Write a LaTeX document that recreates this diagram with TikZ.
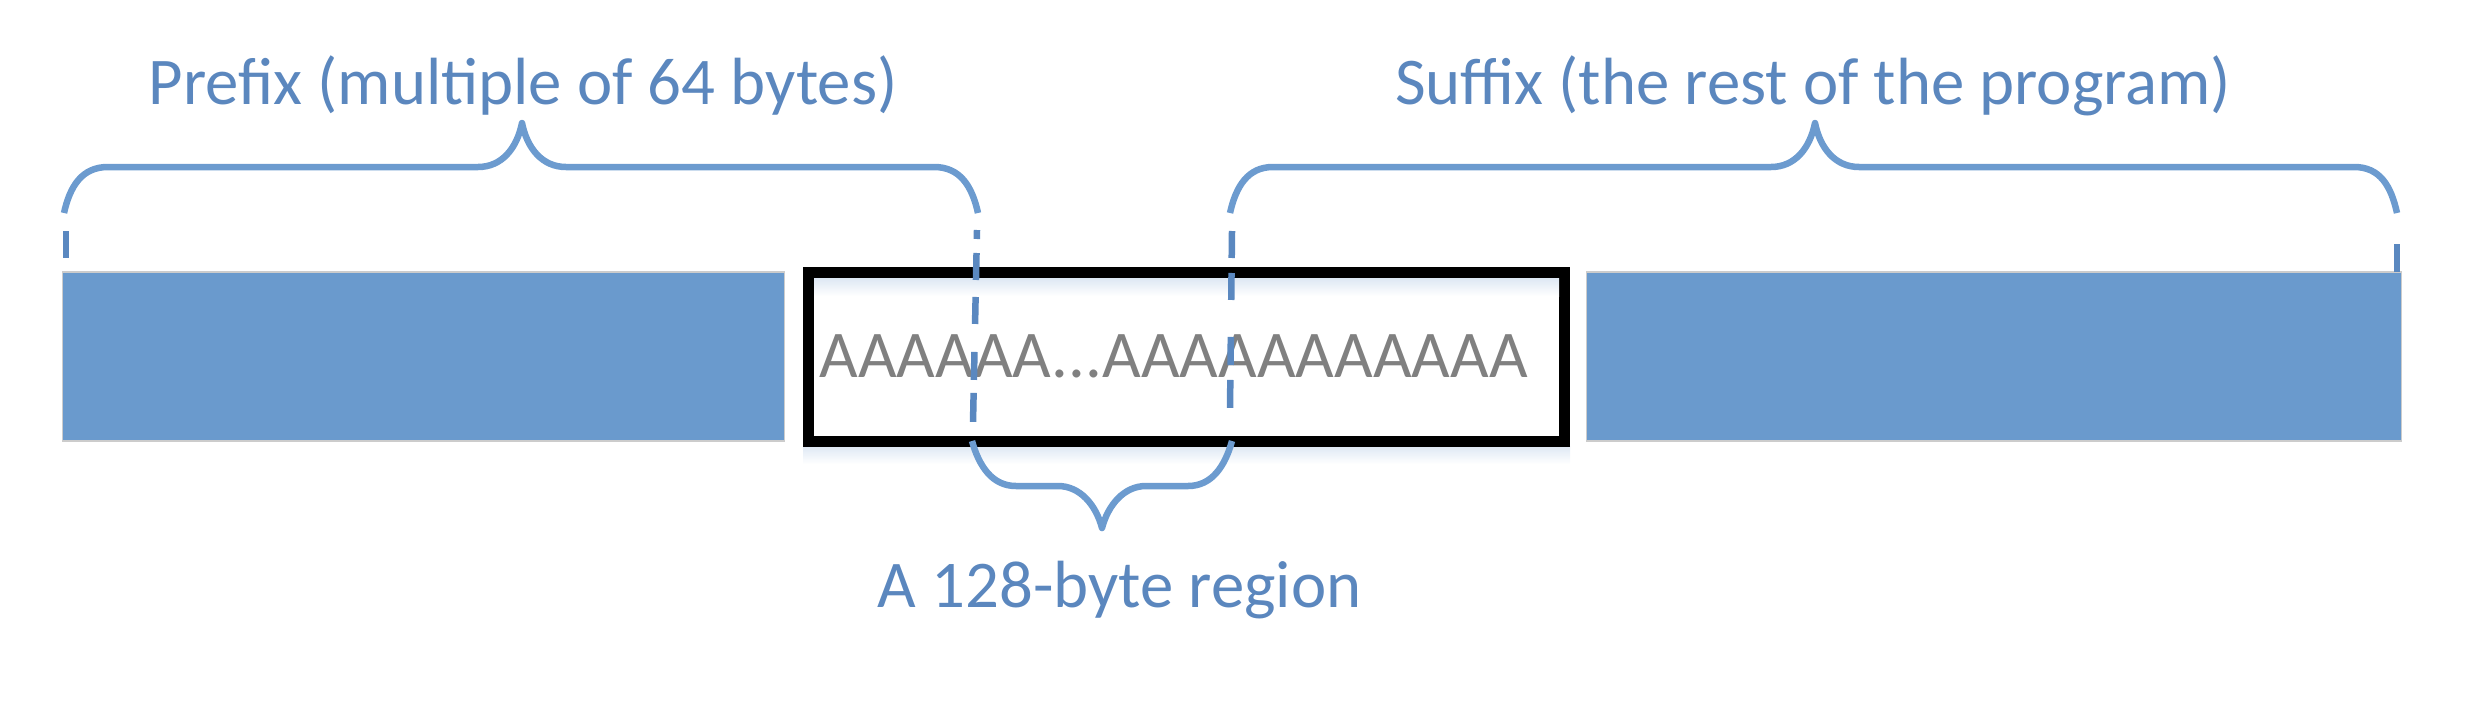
\documentclass[tikz,border=0pt]{standalone}
\usepackage{fontspec}
\setmainfont{Carlito}
\definecolor{barblue}{RGB}{106,154,205}
\definecolor{braceblue}{RGB}{108,155,207}
\definecolor{dashblue}{RGB}{90,136,192}
\definecolor{textblue}{RGB}{91,135,190}
\definecolor{agray}{RGB}{128,128,128}
\definecolor{shadeblue}{RGB}{222,232,244}
\begin{document}
\begin{tikzpicture}[x=0.02cm,y=-0.02cm,
  barbox/.style={draw=black!20, line width=0.6pt, fill=barblue, inner sep=0pt, minimum height=3.38cm},
  framebox/.style={draw=black, fill=white, line width=0.22cm, inner sep=0pt, minimum width=15.12cm, minimum height=3.38cm},
  lbl/.style={text=textblue, font=\fontsize{38pt}{45pt}\selectfont, inner sep=0pt},
  atext/.style={text=agray, font=\fontsize{38pt}{45pt}\selectfont, inner sep=0pt},
  brace/.style={draw=braceblue, line width=0.13cm, line join=round},
  vdash/.style={draw=dashblue, line width=0.13cm}
]
\useasboundingbox (0,0) rectangle (2470,700);
% soft shadow under the frame
\shade[top color=shadeblue, bottom color=white] (803,446) rectangle (1570,464);
% bars and frame
\node[barbox, minimum width=14.46cm] (leftbar) at (423.5,356.5) {};
\node[barbox, minimum width=16.32cm] (rightbar) at (1994,356.5) {};
\node[framebox] (frame) at (1186.5,357) {};
\shade[top color=shadeblue, bottom color=white] (814,278.5) rectangle (1559,296);
\node[atext, anchor=base] (fill) at (1173.5,377) {AAAAAA...AAAAAAAAAAA};
% labels
\node[lbl, anchor=base] (prefix) at (523,104) {Prefix (multiple of 64 bytes)};
\node[lbl, anchor=base] (suffix) at (1813,104) {Suffix (the rest of the program)};
\node[lbl, anchor=base] (region) at (1119.5,607) {A 128-byte region};
% brace end coordinates
\coordinate (pl) at (64,213);
\coordinate (pr) at (978,213);
\coordinate (ptip) at (522,123);
\coordinate (sl) at (1230,213);
\coordinate (sr) at (2397,213);
\coordinate (stip) at (1815,123);
\coordinate (rl) at (972,441);
\coordinate (rr) at (1232,441);
\coordinate (rtip) at (1102,528);
% dashed guide lines
\coordinate (d1a) at (66,231);
\coordinate (d1b) at (66,272);
\coordinate (d2a) at (977,230);
\coordinate (d2b) at (973,423);
\coordinate (d3a) at (1232,231);
\coordinate (d3b) at (1230,409);
\coordinate (d4a) at (2397,244);
\coordinate (d4b) at (2397,272);
\draw[vdash, dash pattern=on 0.54cm off 2cm] (d1a) -- (d1b);
\draw[vdash, dash pattern=on 0.18cm off 0.28cm on 0.54cm off 0.34cm on 0.54cm off 0.56cm on 0.56cm off 0.26cm on 0.58cm off 2cm] (d2a) -- (d2b);
\draw[vdash, dash pattern=on 0.54cm off 0.30cm on 0.54cm off 0.74cm on 0.56cm off 0.30cm on 0.56cm off 2cm] (d3a) -- (d3b);
\draw[vdash] (d4a) -- (d4b);
% prefix brace
\draw[brace] (pl) .. controls (70,186) and (82,167) .. (108,167) -- (478,167)
  .. controls (502,167) and (517,148) .. (ptip)
  .. controls (527,148) and (542,167) .. (566,167) -- (934,167)
  .. controls (960,167) and (972,186) .. (pr);
% suffix brace
\draw[brace] (sl) .. controls (1236,186) and (1248,167) .. (1273,167) -- (1771,167)
  .. controls (1795,167) and (1810,148) .. (stip)
  .. controls (1820,148) and (1835,167) .. (1859,167) -- (2354,167)
  .. controls (2380,167) and (2391,186) .. (sr);
% region brace
\draw[brace] (rl) .. controls (979,466) and (992,486) .. (1016,486) -- (1058,486)
  .. controls (1080,486) and (1096,505) .. (rtip)
  .. controls (1108,505) and (1124,486) .. (1146,486) -- (1188,486)
  .. controls (1212,486) and (1225,466) .. (rr);
\end{tikzpicture}
\end{document}
